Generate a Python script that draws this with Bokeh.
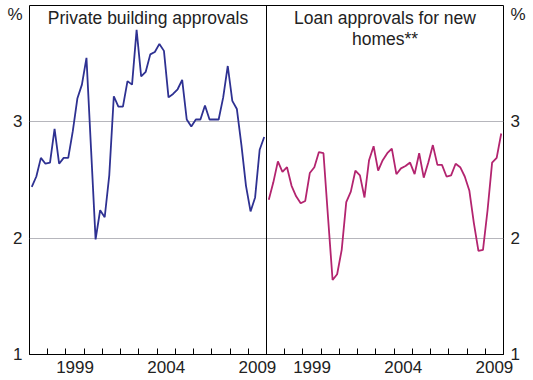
from bokeh.plotting import figure
from bokeh.models import Range1d, FixedTicker, LinearAxis, Span, Label
from bokeh.embed import file_html
from bokeh.resources import INLINE

# ---------------- data (quarterly, 1997Q1 .. 2009Q4) ----------------
start_year = 1997
end_year = 2010
building_approvals = [
    2.44, 2.53, 2.69, 2.64, 2.65, 2.94, 2.64, 2.69, 2.69, 2.92, 3.20, 3.32,
    3.55, 2.77, 1.99, 2.24, 2.18, 2.54, 3.22, 3.13, 3.13, 3.35, 3.32, 3.79,
    3.39, 3.43, 3.58, 3.60, 3.67, 3.61, 3.21, 3.24, 3.28, 3.36, 3.02, 2.96,
    3.02, 3.02, 3.14, 3.02, 3.02, 3.02, 3.21, 3.48, 3.18, 3.11, 2.80, 2.45,
    2.23, 2.35, 2.76, 2.87,
]
loan_approvals = [
    2.33, 2.48, 2.66, 2.57, 2.61, 2.45, 2.36, 2.30, 2.32, 2.56, 2.61, 2.74,
    2.73, 2.18, 1.64, 1.69, 1.90, 2.31, 2.40, 2.58, 2.54, 2.35, 2.67, 2.79,
    2.58, 2.67, 2.73, 2.77, 2.55, 2.60, 2.62, 2.65, 2.55, 2.73, 2.52, 2.65,
    2.80, 2.63, 2.63, 2.53, 2.54, 2.64, 2.61, 2.53, 2.41, 2.13, 1.89, 1.90,
    2.24, 2.65, 2.69, 2.90,
]
panel_titles = ["Private building approvals", "Loan approvals for new\nhomes**"]
year_labels = [1999, 2004, 2009]
y_ticks = [1, 2, 3]
y_grid = [2, 3]
unit_label = "%"

quarter_x = [start_year + (i + 0.5) / 4 for i in range(len(building_approvals))]

# ---------------- styling ----------------
FONT = "Liberation Sans"
TXT = "#222222"
BLUE = "#2e3192"
MAGENTA = "#b3246f"

span_years = end_year - start_year
y_lo, y_hi = 1, 4
unit_pos = 3.92

p = figure(
    width=533, height=380,
    x_range=Range1d(start_year, end_year + span_years),
    y_range=Range1d(y_lo, y_hi),
    output_backend="svg", toolbar_location=None,
    min_border_left=29, min_border_right=30, min_border_top=5, min_border_bottom=26,
)
p.extra_x_ranges = {"right": Range1d(start_year - span_years, end_year)}
p.background_fill_color = "white"
p.border_fill_color = "white"
p.outline_line_color = "black"
p.outline_line_width = 1

# grid
p.xgrid.visible = False
p.ygrid.ticker = FixedTicker(ticks=y_grid)
p.ygrid.grid_line_color = "#b6b6bc"
p.ygrid.grid_line_width = 1

# x axis: year labels centred mid-year, tick marks at year boundaries
major = []
overrides = {}
for off in (0, span_years):
    for y in year_labels:
        major.append(y + 0.5 + off)
        overrides[y + 0.5 + off] = str(y)
xa = p.xaxis[0]
xa.ticker = FixedTicker(ticks=major, minor_ticks=list(range(start_year, end_year + span_years + 1)))
xa.major_label_overrides = overrides
xa.major_tick_line_color = None
xa.major_tick_in = 0
xa.major_tick_out = 0
xa.minor_tick_line_color = "black"
xa.minor_tick_in = 6
xa.minor_tick_out = 0
xa.axis_line_color = "black"
xa.major_label_standoff = 6
xa.major_label_text_font = FONT
xa.major_label_text_font_size = "17px"
xa.major_label_text_color = TXT

# y axes
ylab = {t: str(t) for t in y_ticks}
ylab[unit_pos] = unit_label
ya = p.yaxis[0]
ya_right = LinearAxis()
p.add_layout(ya_right, "right")
for ax in (ya, ya_right):
    ax.ticker = FixedTicker(ticks=y_ticks + [unit_pos])
    ax.major_label_overrides = ylab
    ax.major_tick_line_color = None
    ax.major_tick_in = 0
    ax.major_tick_out = 0
    ax.minor_tick_line_color = None
    ax.minor_tick_in = 0
    ax.minor_tick_out = 0
    ax.axis_line_color = None
    ax.major_label_standoff = 7
    ax.major_label_text_font = FONT
    ax.major_label_text_font_size = "17px"
    ax.major_label_text_color = TXT

# panel divider
p.add_layout(Span(location=end_year, dimension="height", line_color="black", line_width=1))

# series
p.line(quarter_x, building_approvals, line_color=BLUE, line_width=1.8)
p.line(quarter_x, loan_approvals, line_color=MAGENTA, line_width=1.8, x_range_name="right")

# panel titles
mid = (start_year + end_year) / 2
for title, rng in zip(panel_titles, ("default", "right")):
    p.add_layout(Label(
        x=mid, y=y_hi, x_range_name=rng, y_offset=-2, text=title,
        text_align="center", text_baseline="top",
        text_font=FONT, text_font_size="17.5px", text_color=TXT,
        text_line_height=1.05,
    ))

open("out.html", "w").write(file_html(p, INLINE))
